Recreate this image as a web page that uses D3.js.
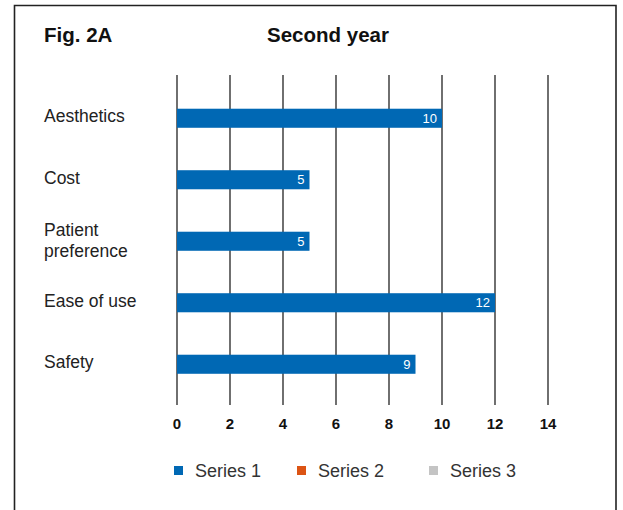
<!DOCTYPE html>
<html>
<head>
<meta charset="utf-8">
<script src="https://cdn.jsdelivr.net/npm/d3@7"></script>
<style>
  body { margin: 0; background: #fff; }
  text { font-family: "Liberation Sans", Arial, sans-serif; }
</style>
</head>
<body>
<svg id="chart" width="623" height="510"></svg>
<script>
// data
const categories = ['Aesthetics', 'Cost', 'Patient preference', 'Ease of use', 'Safety'];
const series1 = [10, 5, 5, 12, 9];
const seriesNames = ['Series 1', 'Series 2', 'Series 3'];
const seriesColors = ['#0068b4', '#dc5414', '#c4c4c4'];
const xTicks = [0, 2, 4, 6, 8, 10, 12, 14];

const svg = d3.select('#chart');

// frame, open at the bottom
svg.append('path')
  .attr('d', 'M14.5,510 V5.5 H616 V510')
  .attr('fill', 'none')
  .attr('stroke', '#222')
  .attr('stroke-width', 1.6);

svg.append('text')
  .attr('x', 44).attr('y', 42)
  .style('font-size', '20.5px').style('font-weight', 'bold').attr('fill', '#111')
  .text('Fig. 2A');

svg.append('text')
  .attr('x', 328).attr('y', 42)
  .attr('text-anchor', 'middle')
  .style('font-size', '20.5px').style('font-weight', 'bold').attr('fill', '#111')
  .text('Second year');

const x = d3.scaleLinear().domain([0, 14]).range([177, 548]);
const y = d3.scaleBand().domain(categories).range([87.5, 395]).paddingInner(0.69).paddingOuter(0.345);

// vertical grid lines
svg.append('g')
  .selectAll('line')
  .data(xTicks)
  .enter()
  .append('line')
  .attr('x1', d => x(d)).attr('x2', d => x(d))
  .attr('y1', 75).attr('y2', 405)
  .attr('stroke', '#333')
  .attr('stroke-width', 1.4);

// tick labels
svg.append('g')
  .selectAll('text')
  .data(xTicks)
  .enter()
  .append('text')
  .attr('x', d => x(d)).attr('y', 429)
  .attr('text-anchor', 'middle')
  .style('font-size', '15px').style('font-weight', 'bold').attr('fill', '#111')
  .text(d => d);

// bars
svg.append('g')
  .selectAll('rect')
  .data(series1)
  .enter()
  .append('rect')
  .attr('x', x(0))
  .attr('y', (d, i) => y(categories[i]))
  .attr('width', d => x(d) - x(0))
  .attr('height', y.bandwidth())
  .attr('fill', seriesColors[0]);

// value labels
svg.append('g')
  .selectAll('text')
  .data(series1)
  .enter()
  .append('text')
  .attr('x', d => x(d) - 5)
  .attr('y', (d, i) => y(categories[i]) + y.bandwidth() / 2 + 4.5)
  .attr('text-anchor', 'end')
  .style('font-size', '13px').attr('fill', '#fff')
  .text(d => d);

// category labels
const catLabels = svg.append('g')
  .selectAll('text')
  .data(categories)
  .enter()
  .append('text')
  .attr('y', d => y(d) + y.bandwidth() / 2 + 4)
  .style('font-size', '17.5px').attr('fill', '#222');

catLabels.each(function(d) {
  const words = d === 'Patient preference' ? ['Patient', 'preference'] : [d];
  const t = d3.select(this);
  if (words.length > 1) {
    t.attr('y', y(d) + y.bandwidth() / 2 - 5);
  }
  words.forEach((w, k) => {
    t.append('tspan').attr('x', 44).attr('dy', k === 0 ? 0 : 20.5).text(w);
  });
});

// legend
const legendX = [174, 297, 429];
const legend = svg.append('g')
  .selectAll('g')
  .data(seriesNames)
  .enter()
  .append('g')
  .attr('transform', (d, i) => 'translate(' + legendX[i] + ',466)');

legend.append('rect')
  .attr('width', 9).attr('height', 9)
  .attr('fill', (d, i) => seriesColors[i]);

legend.append('text')
  .attr('x', 21).attr('y', 10.5)
  .style('font-size', '18px').attr('fill', '#333')
  .text(d => d);
</script>
</body>
</html>
